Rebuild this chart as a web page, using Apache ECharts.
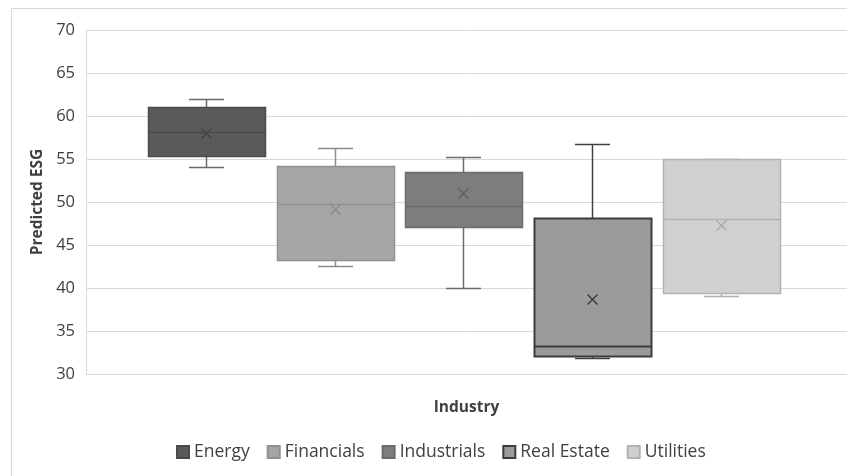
<!DOCTYPE html>
<html>
<head>
<meta charset="utf-8">
<script src="https://cdn.jsdelivr.net/npm/echarts@6/dist/echarts.min.js"></script>
<style>
html, body { margin: 0; padding: 0; background: #fff; }
#chart { width: 847px; height: 476px; }
</style>
</head>
<body>
<div id="chart"></div>
<script>
const categories = ['Industry'];
const seriesNames = ['Energy', 'Financials', 'Industrials', 'Real Estate', 'Utilities'];
const minValues = [54.1, 42.6, 40.0, 31.9, 39.1];
const q1Values = [55.3, 43.3, 47.1, 32.1, 39.4];
const medianValues = [58.1, 49.8, 49.5, 33.3, 48.0];
const q3Values = [61.0, 54.2, 53.5, 48.1, 55.0];
const maxValues = [62.0, 56.3, 55.2, 56.8, 55.0];
const meanValues = [58.0, 49.2, 51.0, 38.7, 47.3];

// fill / border / whisker / mean marker colours per series
const fills = ['#5a5a5a', '#a6a6a6', '#7d7d7d', '#9b9b9d', '#d0d0d2'];
const borders = ['#4b4b4b', '#909090', '#6c6c6c', '#3c3c3c', '#b2b2b2'];
const whiskers = ['#6a6a6a', '#8c8c8c', '#6c6c6c', '#404040', '#b0b0b0'];
const meanColors = ['#444444', '#8a8a8a', '#5e5e5e', '#333333', '#a8a8a8'];

const font = "'Open Sans', 'Liberation Sans', sans-serif";
const chart = echarts.init(document.getElementById('chart'));

const crisp = v => Math.round(v) + 0.5;

const renderBox = (params, api) => {
    const i = params.seriesIndex;
    const x0 = api.value(0);
    const py = k => crisp(api.coord([x0, api.value(k)])[1]);
    const band = api.size([1, 0])[0];
    const left = api.coord([x0, api.value(3)])[0] - band / 2;
    const cx = crisp(left + band * (0.1577 + i * 0.1691));
    const bw = band * 0.1537;
    const cw = band * 0.046;
    const xl = crisp(cx - bw / 2), xr = crisp(cx + bw / 2);
    const yMin = py(1), yQ1 = py(2), yMed = py(3), yQ3 = py(4), yMax = py(5), yMean = py(6);
    const lw = i === 3 ? 2 : 1.5;
    const wStyle = { stroke: whiskers[i], lineWidth: 1.5 };
    const m = 5;
    return {
        type: 'group',
        children: [
            { type: 'line', shape: { x1: cx, y1: yMax, x2: cx, y2: yQ3 }, style: wStyle },
            { type: 'line', shape: { x1: cx, y1: yQ1, x2: cx, y2: yMin }, style: wStyle },
            { type: 'line', shape: { x1: cx - cw / 2, y1: yMax, x2: cx + cw / 2, y2: yMax }, style: wStyle },
            { type: 'line', shape: { x1: cx - cw / 2, y1: yMin, x2: cx + cw / 2, y2: yMin }, style: wStyle },
            { type: 'rect', shape: { x: xl, y: yQ3, width: xr - xl, height: yQ1 - yQ3 },
              style: { fill: fills[i], stroke: borders[i], lineWidth: lw } },
            { type: 'line', shape: { x1: xl, y1: yMed, x2: xr, y2: yMed },
              style: { stroke: borders[i], lineWidth: lw } },
            { type: 'line', shape: { x1: cx - m, y1: yMean - m, x2: cx + m, y2: yMean + m },
              style: { stroke: meanColors[i], lineWidth: 1.3 } },
            { type: 'line', shape: { x1: cx - m, y1: yMean + m, x2: cx + m, y2: yMean - m },
              style: { stroke: meanColors[i], lineWidth: 1.3 } }
        ]
    };
};

const series = seriesNames.map((name, i) => ({
    name: name,
    type: 'custom',
    renderItem: renderBox,
    itemStyle: { color: fills[i], borderColor: borders[i], borderWidth: i === 3 ? 1.5 : 1 },
    encode: { x: 0, y: [1, 2, 3, 4, 5, 6] },
    data: [[0, minValues[i], q1Values[i], medianValues[i], q3Values[i], maxValues[i], meanValues[i]]]
}));

const option = {
    backgroundColor: '#fff',
    animation: false,
    textStyle: { fontFamily: font },
    graphic: [{
        type: 'rect',
        shape: { x: 11.5, y: 8.5, width: 900, height: 600 },
        style: { fill: 'none', stroke: '#d9d9d9', lineWidth: 1 },
        z: -1
    }],
    grid: { left: 86, top: 30, right: 0, bottom: 102 },
    legend: {
        data: seriesNames,
        bottom: 10,
        left: 171,
        icon: 'rect',
        itemWidth: 12,
        itemHeight: 12,
        itemGap: 17,
        textStyle: { fontFamily: font, fontSize: 17.5, color: '#404040' }
    },
    xAxis: {
        type: 'category',
        data: categories,
        name: 'Industry',
        nameLocation: 'middle',
        nameGap: 26,
        nameTextStyle: { fontFamily: font, fontSize: 15.5, fontWeight: 'bold', color: '#404040' },
        axisLine: { show: true, lineStyle: { color: '#d9d9d9' } },
        axisTick: { show: false },
        axisLabel: { show: false },
        splitLine: { show: false }
    },
    yAxis: {
        type: 'value',
        min: 30,
        max: 70,
        interval: 5,
        name: 'Predicted ESG',
        nameLocation: 'middle',
        nameRotate: 90,
        nameGap: 40,
        nameTextStyle: { fontFamily: font, fontSize: 15.5, fontWeight: 'bold', color: '#404040' },
        axisLine: { show: true, lineStyle: { color: '#d9d9d9' } },
        axisTick: { show: false },
        axisLabel: { fontFamily: font, fontSize: 16.5, color: '#404040', margin: 11 },
        splitLine: { show: true, lineStyle: { color: '#d9d9d9', width: 1 } }
    },
    series: series
};

chart.setOption(option);
</script>
</body>
</html>
